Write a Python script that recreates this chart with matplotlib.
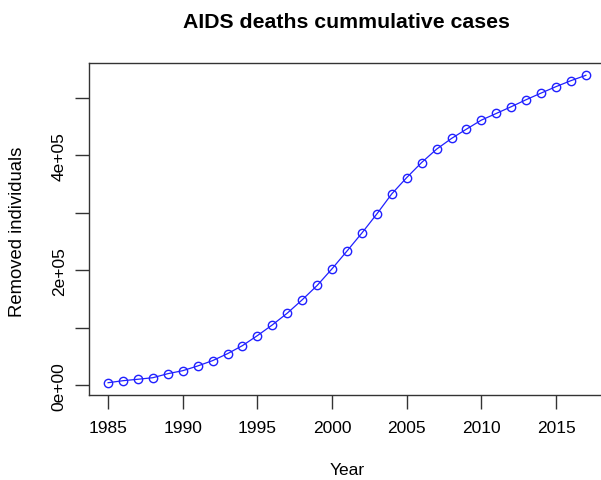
import matplotlib
matplotlib.use("Agg")
import matplotlib.pyplot as plt
import numpy as np

plt.rcParams['font.family'] = ['Liberation Sans', 'DejaVu Sans']

# values
years = list(range(1985, 2018))
removed = [4500, 8000, 10500, 13200, 20200, 25400, 33600, 42900, 55000, 69000,
           86400, 105000, 125400, 148600, 173500, 202600, 233400, 264800, 297900,
           332800, 361100, 387300, 410500, 429100, 445300, 461000, 472600, 484300,
           496500, 508000, 519200, 529600, 538900]
xtick_vals = [1985, 1990, 1995, 2000, 2005, 2010, 2015]
ytick_vals = [0, 100000, 200000, 300000, 400000, 500000]
ytick_labels = ['0e+00', '', '2e+05', '', '4e+05', '']

W, H = 601, 481
fig = plt.figure(figsize=(W / 100, H / 100), dpi=100)
# R style plot region; box runs past the right edge like in the reference
left, right, top, bottom = 89, 605, 64, 396
ax = fig.add_axes([left / W, 1 - bottom / H, (right - left) / W, (bottom - top) / H])

ax.plot(years, removed, color='#2020ff', linewidth=0.9, marker='o', markersize=6,
        markerfacecolor='none', markeredgecolor='#2020ff', markeredgewidth=1.0)

# R adds 4% on each side
def r_lim(vals):
    lo, hi = min(vals), max(vals)
    d = (hi - lo) * 0.04
    return lo - d, hi + d

ax.set_xlim(*r_lim(years))
ax.set_ylim(*r_lim(removed))

ax.set_xticks(xtick_vals)
ax.set_xticklabels([str(v) for v in xtick_vals], fontsize=12.5)
ax.set_yticks(ytick_vals)
ax.set_yticklabels(ytick_labels, fontsize=12.5, rotation=90, va='center')

for s in ax.spines.values():
    s.set_color('#333333')
    s.set_linewidth(1.0)
ax.tick_params(direction='out', length=10, width=1.0, color='#333333')
ax.tick_params(axis='x', pad=8)
ax.tick_params(axis='y', pad=6)

fig.text(346 / W, 1 - 22 / H, 'AIDS deaths cummulative cases', ha='center', va='center',
         fontsize=15.3, fontweight='bold')
fig.text(347 / W, 1 - 471 / H, 'Year', ha='center', va='center', fontsize=12.5)
fig.text(18 / W, 1 - 232 / H, 'Removed individuals', ha='center', va='center',
         fontsize=13.3, rotation=90)

fig.savefig('out.png', dpi=100)
